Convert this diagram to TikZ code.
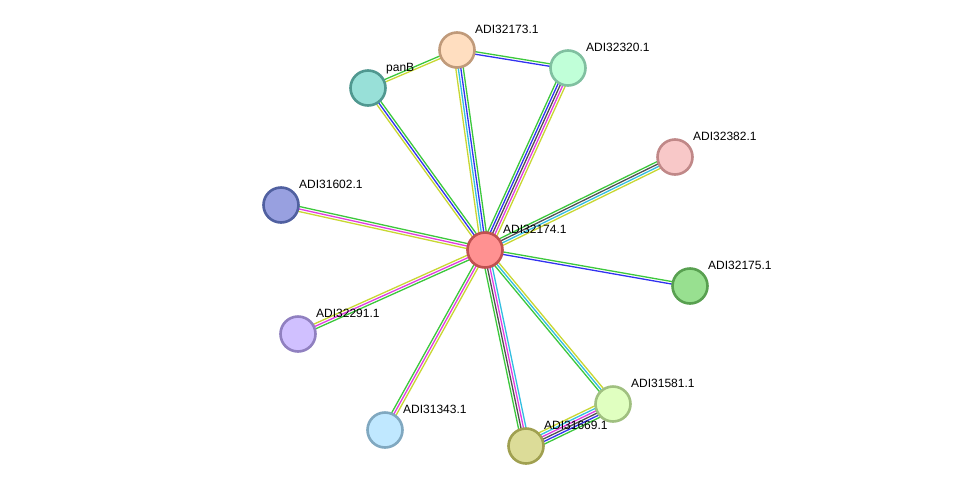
\documentclass[tikz,border=0pt]{standalone}
\usepackage{fontspec}
\setmainfont{Liberation Sans}
\usetikzlibrary{calc,backgrounds}
\definecolor{egreen}{RGB}{60,200,60}
\definecolor{eblue}{RGB}{50,50,240}
\definecolor{ecyan}{RGB}{50,190,225}
\definecolor{eyellow}{RGB}{200,215,50}
\definecolor{emag}{RGB}{225,60,225}
\definecolor{egray}{RGB}{80,80,80}
\tikzset{
  prot/.style={circle, minimum size=35pt, inner sep=0pt, line width=2.6pt},
  lbl/.style={anchor=base west, inner sep=0pt, font=\fontsize{12}{14}\selectfont, text=black},
  eline/.style={line width=1.3pt},
}
\newcommand\multiedge[4]{%
  \foreach \cc [count=\ii] in {#4} {%
    \pgfmathsetmacro\eoff{(\ii-(#3+1)/2)*2.5}%
    \draw[eline,\cc] ($(#1.center)!\eoff pt!90:(#2.center)$) -- ($(#2.center)!\eoff pt!-90:(#1.center)$);
  }}
\begin{document}
\begin{tikzpicture}[x=1pt,y=-1pt]
\useasboundingbox (0,0) rectangle (975,491);
\node[prot, fill={rgb,255:red,255;green,145;blue,145}, draw={rgb,255:red,192;green,80;blue,80}] (c) at (485,250) {};
\node[prot, fill={rgb,255:red,255;green,222;blue,192}, draw={rgb,255:red,192;green,154;blue,122}] (a73) at (457,50) {};
\node[prot, fill={rgb,255:red,192;green,255;blue,216}, draw={rgb,255:red,128;green,192;blue,160}] (a20) at (568,68) {};
\node[prot, fill={rgb,255:red,152;green,224;blue,216}, draw={rgb,255:red,80;green,152;blue,144}] (pb) at (368,88) {};
\node[prot, fill={rgb,255:red,248;green,200;blue,200}, draw={rgb,255:red,192;green,136;blue,136}] (a82) at (675,157) {};
\node[prot, fill={rgb,255:red,152;green,160;blue,224}, draw={rgb,255:red,80;green,96;blue,160}] (a02) at (281,205) {};
\node[prot, fill={rgb,255:red,152;green,224;blue,144}, draw={rgb,255:red,88;green,160;blue,80}] (a75) at (690,286) {};
\node[prot, fill={rgb,255:red,208;green,192;blue,255}, draw={rgb,255:red,144;green,128;blue,192}] (a91) at (298,334) {};
\node[prot, fill={rgb,255:red,192;green,232;blue,255}, draw={rgb,255:red,128;green,168;blue,192}] (a43) at (385,430) {};
\node[prot, fill={rgb,255:red,220;green,220;blue,152}, draw={rgb,255:red,160;green,160;blue,80}] (a69) at (526,446) {};
\node[prot, fill={rgb,255:red,224;green,255;blue,192}, draw={rgb,255:red,160;green,192;blue,128}] (a81) at (613,404) {};
\begin{scope}[on background layer]
\fill[white] (0,0) rectangle (975,491);
\multiedge{c}{a73}{4}{egreen,eblue,ecyan,eyellow}
\multiedge{c}{a20}{5}{eyellow,emag,egray,eblue,egreen}
\multiedge{c}{pb}{3}{egreen,eblue,eyellow}
\multiedge{c}{a82}{4}{eyellow,ecyan,egray,egreen}
\multiedge{c}{a75}{2}{eblue,egreen}
\multiedge{c}{a02}{3}{egreen,emag,eyellow}
\multiedge{c}{a91}{3}{eyellow,emag,egreen}
\multiedge{c}{a43}{3}{egreen,emag,eyellow}
\multiedge{c}{a69}{4}{egreen,egray,emag,ecyan}
\multiedge{c}{a81}{3}{egreen,ecyan,eyellow}
\multiedge{a69}{a81}{6}{egreen,eblue,egray,emag,ecyan,eyellow}
\multiedge{pb}{a73}{2}{eyellow,egreen}
\multiedge{a73}{a20}{2}{eblue,egreen}
\end{scope}
\node[lbl] (lc) at ([shift={(18,-17)}]c.center) {ADI32174.1};
\node[lbl] (l73) at ([shift={(18,-17)}]a73.center) {ADI32173.1};
\node[lbl] (l20) at ([shift={(18,-17)}]a20.center) {ADI32320.1};
\node[lbl] (lpb) at ([shift={(18,-17)}]pb.center) {panB};
\node[lbl] (l82) at ([shift={(18,-17)}]a82.center) {ADI32382.1};
\node[lbl] (l02) at ([shift={(18,-17)}]a02.center) {ADI31602.1};
\node[lbl] (l75) at ([shift={(18,-17)}]a75.center) {ADI32175.1};
\node[lbl] (l91) at ([shift={(18,-17)}]a91.center) {ADI32291.1};
\node[lbl] (l43) at ([shift={(18,-17)}]a43.center) {ADI31343.1};
\node[lbl] (l69) at ([shift={(18,-17)}]a69.center) {ADI31669.1};
\node[lbl] (l81) at ([shift={(18,-17)}]a81.center) {ADI31581.1};
\end{tikzpicture}
\end{document}
